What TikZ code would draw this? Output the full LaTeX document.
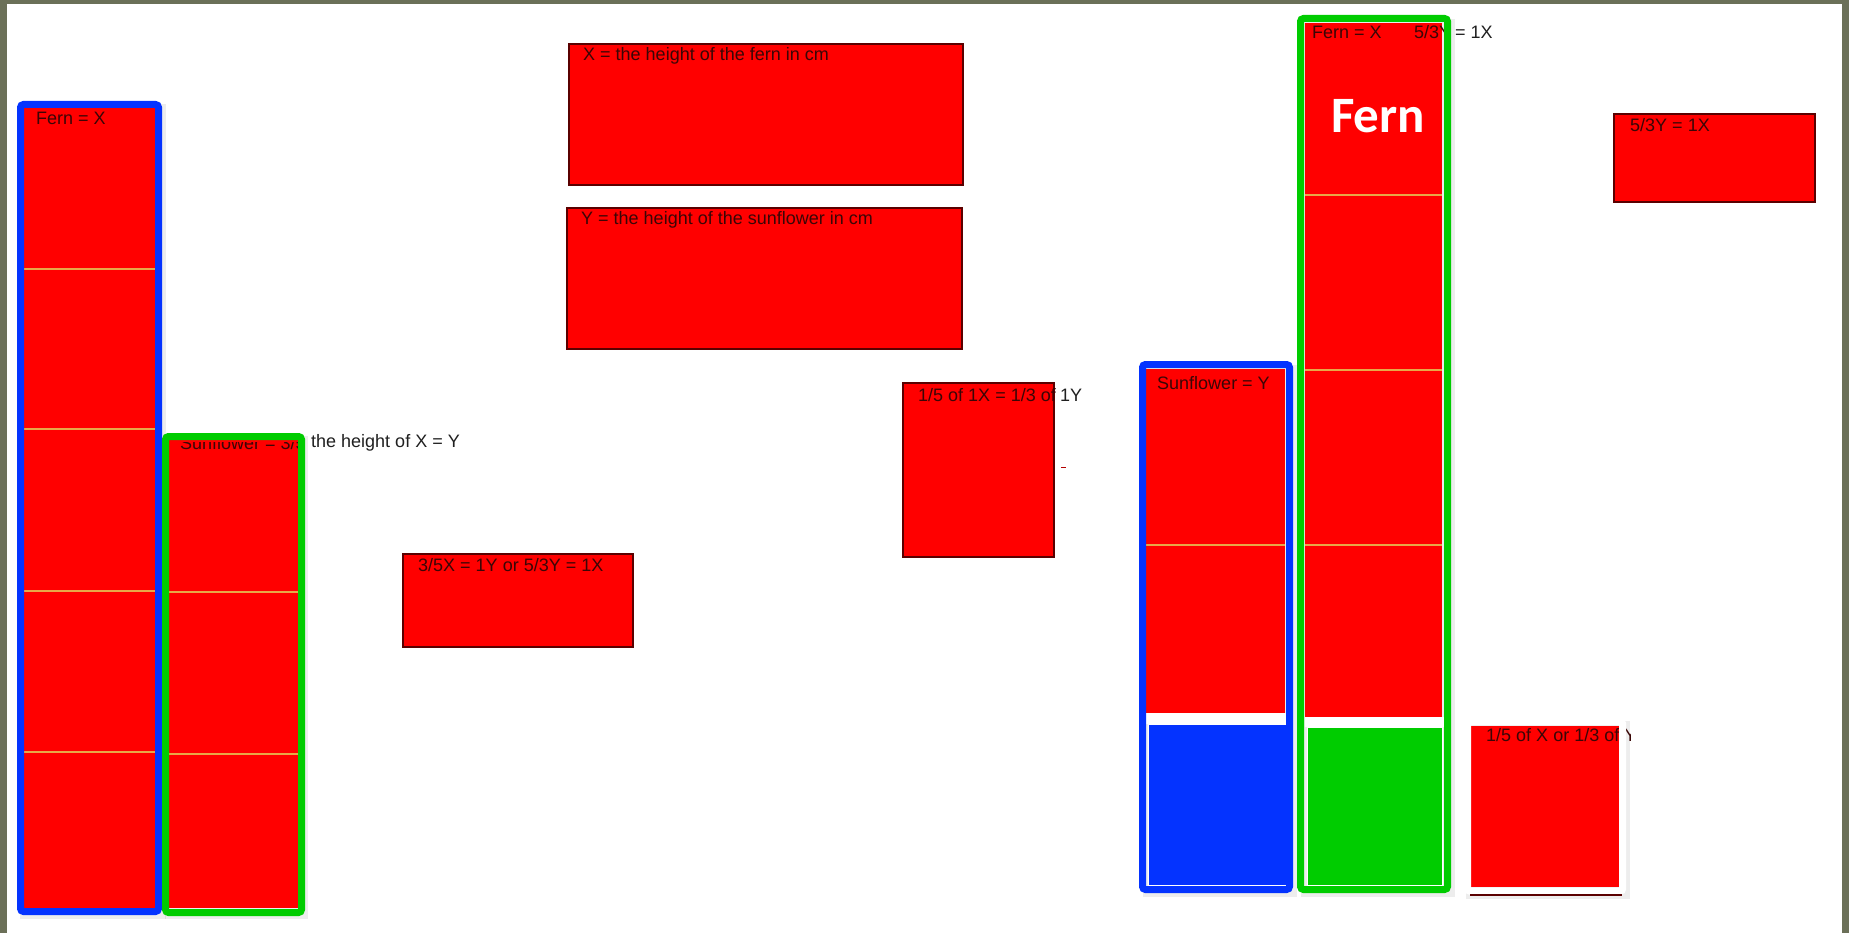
\documentclass[tikz,border=0pt]{standalone}
\usepackage{fontspec}
\setmainfont{Liberation Sans}
\newfontfamily\calfont{Carlito}
\definecolor{frameback}{HTML}{6B7058}
\definecolor{boxred}{HTML}{FF0000}
\definecolor{boxedge}{HTML}{5A0000}
\definecolor{bframe}{HTML}{0433FF}
\definecolor{gframe}{HTML}{00CC00}
\definecolor{divcol}{HTML}{E8A848}
\definecolor{intext}{HTML}{3A0606}
\definecolor{outtext}{HTML}{202020}
\begin{document}
\begin{tikzpicture}[x=1pt,y=-1pt,
  redbox/.style={fill=boxred, draw=boxedge, line width=1.5pt},
  redfill/.style={fill=boxred},
  blueframe/.style={draw=bframe, line width=7pt, rounded corners=3pt},
  greenframe/.style={draw=gframe, line width=7pt, rounded corners=3pt},
  whiteframe/.style={draw=white, line width=7pt, rounded corners=2pt},
  divider/.style={draw=divcol, line width=1.2pt},
  shadow/.style={fill=black, opacity=0.07},
  intxt/.style={anchor=west, inner sep=0pt, text=intext, font=\fontsize{18}{21}\selectfont},
  outtxt/.style={anchor=west, inner sep=0pt, text=outtext, font=\fontsize{18}{21}\selectfont},
  bigtxt/.style={inner sep=0pt, text=white, font=\calfont\bfseries\fontsize{51}{56}\selectfont}
]
\useasboundingbox (0,0) rectangle (1849,933);
% background frame
\fill[frameback] (0,0) rectangle (1849,933);
\fill[white] (7,4) rectangle (1842,933);

% ---------- left fern (blue frame) ----------
\fill[shadow] (20,104) rectangle (166,919);
\fill[redfill] (24,108) rectangle (155,908);
\foreach \yy in {269,429,591,752} \draw[divider] (24,\yy) -- (155,\yy);
\draw[blueframe] (20.5,104.5) rectangle (158.5,911.5);
\node[intxt] (fernx) at (36,118) {Fern = X};

% ---------- left sunflower (green frame) ----------
\fill[shadow] (165,436) rectangle (308,919);
\fill[redfill] (169,440) rectangle (298,908);
\foreach \yy in {592,754} \draw[divider] (169,\yy) -- (298,\yy);
\begin{scope}
  \clip (169,442) rectangle (298,908);
  \node[intxt] (sunl) at (180,443) {Sunflower = 3/5};
\end{scope}
\draw[greenframe] (165.5,436.5) rectangle (301.5,912.5);
\node[outtxt] (sunr) at (311,443) {the height of X = Y};

% ---------- definition boxes ----------
\draw[redbox] (569,44) rectangle (963,185);
\node[intxt] (defx) at (583,56) {X = the height of the fern in cm};
\draw[redbox] (567,208) rectangle (962,349);
\node[intxt] (defy) at (581,220) {Y = the height of the sunflower in cm};

\draw[redbox] (403,554) rectangle (633,647);
\node[intxt] (ratio) at (418,565) {3/5X = 1Y or 5/3Y = 1X};

\draw[redbox] (903,383) rectangle (1054,557);
\node[intxt] (fifth) at (918,395) {1/5 of 1X = 1/3 of};
\node[outtxt] (fifthy) at (fifth.east) [anchor=west, xshift=4pt] {1Y};
\draw[boxred!70!black, line width=1pt] (1061,467) -- (1066,467);

\draw[redbox] (1614,114) rectangle (1815,202);
\node[intxt] (fivethirds) at (1630,125) {5/3Y = 1X};

% ---------- right sunflower (blue frame) ----------
\fill[shadow] (1143,365) rectangle (1297,897);
\fill[redfill] (1146,369) rectangle (1285,713);
\draw[divider] (1146,545) -- (1285,545);
\fill[white] (1146,713) rectangle (1286,724);
\draw[fill=bframe, draw=white, line width=1pt] (1148,724) rectangle (1286,885);
\draw[blueframe] (1142.5,364.5) rectangle (1289.5,889.5);
\node[intxt] (sunry) at (1157,383) {Sunflower = Y};

% ---------- right fern (green frame) ----------
\fill[shadow] (1301,19) rectangle (1455,897);
\fill[redfill] (1305,23) rectangle (1442,717);
\foreach \yy in {195,370,545} \draw[divider] (1305,\yy) -- (1442,\yy);
\fill[white] (1305,717) rectangle (1444,727);
\draw[fill=gframe, draw=white, line width=1pt] (1307,727) rectangle (1442,885);
\node[intxt] (fernrx) at (1312,32) {Fern = X};
\node[intxt] (fernr53) at (1414,32) {5/3Y};
\draw[greenframe] (1300.5,18.5) rectangle (1447.5,889.5);
\node[outtxt] (fernreq) at (1455,32) {= 1X};
\node[bigtxt] (fernbig) at (1378,116) {Fern};

% ---------- bottom right box ----------
\fill[shadow] (1466,721) rectangle (1630,899);
\fill[redfill] (1471,726) rectangle (1619,887);
\begin{scope}
  \clip (1471,720) rectangle (1630,887);
  \node[intxt] (fifthr) at (1486,735) {1/5 of X or 1/3 of Y};
\end{scope}
\draw[whiteframe] (1467.5,721.5) rectangle (1622.5,891);
\draw[boxedge, line width=1.2pt] (1470,895) -- (1622,895);
\end{tikzpicture}
\end{document}
